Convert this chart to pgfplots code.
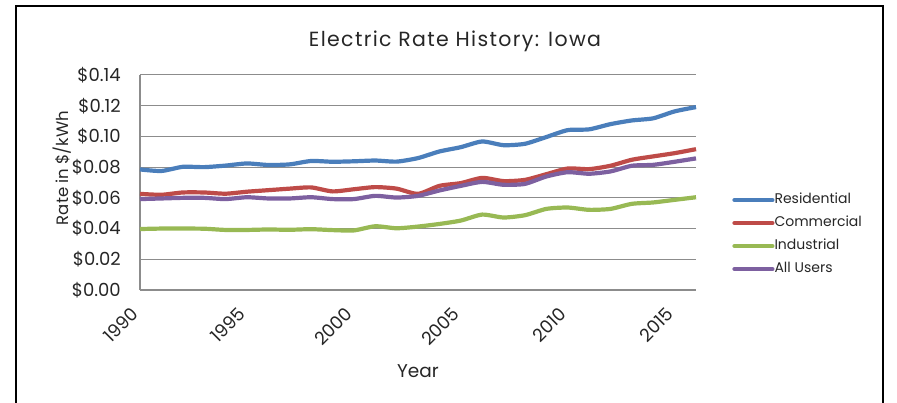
\documentclass[border=0pt]{standalone}
\usepackage{fontspec}
\setmainfont{Poppins}
\usepackage{pgfplots}
\pgfplotsset{compat=1.18}
\definecolor{cRes}{HTML}{4A7EBB}
\definecolor{cCom}{HTML}{BE4B48}
\definecolor{cInd}{HTML}{98B954}
\definecolor{cAll}{HTML}{7D60A0}
\definecolor{cGrid}{HTML}{8C8C8C}
\begin{document}
\begin{tikzpicture}[x=1pt,y=1pt]
\path[use as bounding box] (0,0) rectangle (897,403);
\draw[line width=1.6pt] (16,-5) -- (16,397) -- (883,397) -- (883,-5);
\node[font=\fontsize{20.5}{24}\selectfont\addfontfeatures{LetterSpace=6.5}, text=black!85, anchor=base] at (455,356) {Electric Rate History: Iowa};
\begin{axis}[
  at={(140pt,113pt)}, anchor=south west,
  scale only axis, width=556pt, height=215pt,
  xmin=1990, xmax=2016, ymin=0, ymax=0.14,
  axis x line*=bottom, axis y line*=left,
  axis line style={-, cGrid, line width=1.6pt},
  ymajorgrids, major grid style={cGrid, line width=1pt},
  major tick length=0pt,
  ytick={0,0.02,0.04,0.06,0.08,0.10,0.12,0.14},
  yticklabels={\$0.00,\$0.02,\$0.04,\$0.06,\$0.08,\$0.10,\$0.12,\$0.14},
  xtick={1990,1995,2000,2005,2010,2015},
  xticklabels={1990,1995,2000,2005,2010,2015},
  tick label style={font=\fontsize{18}{21}\selectfont, text=black!85},
  yticklabel style={anchor=east, inner sep=0pt, xshift=-19pt},
  xticklabel style={xshift=-9.5pt, yshift=-16pt, rotate=45, anchor=north east, inner sep=0pt},
  xlabel={Year},
  xlabel style={at={(axis description cs:0.5,0)}, anchor=center, yshift=-81pt, font=\fontsize{18.5}{22}\selectfont, text=black!85},
  ylabel={Rate in \$/kWh},
  ylabel style={at={(axis description cs:-0.140,0.567)}, anchor=center, font=\fontsize{16.5}{20}\selectfont, text=black!85},
  every axis plot/.append style={line width=4.2pt, smooth, tension=0.4},
  legend style={at={(axis description cs:1.065,0.258)}, anchor=west, draw=none, fill=none,
    font=\fontsize{14}{16}\selectfont, text=black!85, row sep=8pt, inner sep=0pt,
    nodes={inner sep=0pt, text height=11pt, text depth=4pt}},
  legend cell align=left,
  legend image code/.code={\draw[#1, line width=4.2pt, line cap=round] (0pt,0pt) -- (38pt,0pt);},
  clip=false,
]
\addplot[cRes] coordinates {
(1990,0.0785)(1991,0.0775)(1992,0.0802)(1993,0.0800)(1994,0.0810)(1995,0.0824)(1996,0.0814)
(1997,0.0818)(1998,0.0840)(1999,0.0835)(2000,0.0838)(2001,0.0843)(2002,0.0836)(2003,0.0859)
(2004,0.0902)(2005,0.0930)(2006,0.0967)(2007,0.0943)(2008,0.0952)(2009,0.0996)(2010,0.1041)
(2011,0.1046)(2012,0.1080)(2013,0.1104)(2014,0.1118)(2015,0.1163)(2016,0.1191)};
\addlegendentry{Residential}
\addplot[cCom] coordinates {
(1990,0.0626)(1991,0.0620)(1992,0.0635)(1993,0.0635)(1994,0.0627)(1995,0.0640)(1996,0.0650)
(1997,0.0660)(1998,0.0668)(1999,0.0642)(2000,0.0656)(2001,0.0670)(2002,0.0660)(2003,0.0626)
(2004,0.0678)(2005,0.0696)(2006,0.0730)(2007,0.0709)(2008,0.0717)(2009,0.0754)(2010,0.0791)
(2011,0.0787)(2012,0.0809)(2013,0.0848)(2014,0.0870)(2015,0.0891)(2016,0.0917)};
\addlegendentry{Commercial}
\addplot[cInd] coordinates {
(1990,0.0397)(1991,0.0400)(1992,0.0400)(1993,0.0399)(1994,0.0391)(1995,0.0391)(1996,0.0394)
(1997,0.0392)(1998,0.0396)(1999,0.0390)(2000,0.0388)(2001,0.0415)(2002,0.0402)(2003,0.0413)
(2004,0.0430)(2005,0.0452)(2006,0.0491)(2007,0.0472)(2008,0.0487)(2009,0.0528)(2010,0.0537)
(2011,0.0522)(2012,0.0528)(2013,0.0561)(2014,0.0570)(2015,0.0587)(2016,0.0604)};
\addlegendentry{Industrial}
\addplot[cAll] coordinates {
(1990,0.0592)(1991,0.0596)(1992,0.0600)(1993,0.0600)(1994,0.0592)(1995,0.0604)(1996,0.0596)
(1997,0.0596)(1998,0.0604)(1999,0.0592)(2000,0.0592)(2001,0.0613)(2002,0.0602)(2003,0.0613)
(2004,0.0648)(2005,0.0678)(2006,0.0704)(2007,0.0685)(2008,0.0691)(2009,0.0739)(2010,0.0767)
(2011,0.0757)(2012,0.0772)(2013,0.0809)(2014,0.0815)(2015,0.0835)(2016,0.0857)};
\addlegendentry{All Users}
\end{axis}
\end{tikzpicture}
\end{document}
